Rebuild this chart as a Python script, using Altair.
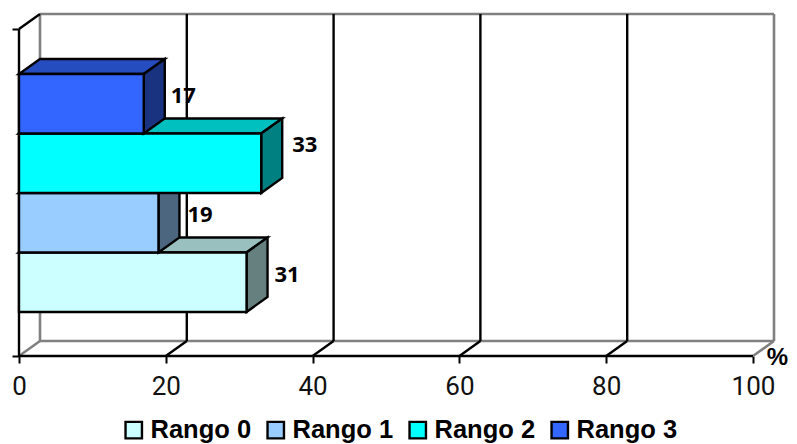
import altair as alt
import pandas as pd

series = ["Rango 0", "Rango 1", "Rango 2", "Rango 3"]
values = [31, 19, 33, 17]
label_y = [1.361, 2.37, 3.55, 4.37]
label_dx = [7, 8, 10, 6]
front = ["#CCFFFF", "#99CCFF", "#00FFFF", "#3366FF"]
top_c = ["#99BFBF", "#7399BF", "#00BFBF", "#264DBF"]
side_c = ["#668080", "#4D6680", "#008080", "#1A3380"]
base = 0.74
bar_h = 1.0
dx = 2.86
dy = 0.252
x_dom = [0, 102.86]
y_top = 5.496
y_dom = [0, 5.748]
ticks = [0, 20, 40, 60, 80, 100]
FONT_B = "Liberation Sans"
FONT_N = "Roboto"
SW = 2.4

xs = alt.Scale(domain=x_dom, nice=False, zero=False)
ys = alt.Scale(domain=y_dom, nice=False, zero=False)
xax = alt.Axis(
    values=ticks, title="%", domain=False, grid=False, tickColor="black",
    tickWidth=2, tickSize=7, labelFont=FONT_N, labelFontSize=26,
    labelColor="#111111", labelPadding=10, labelFlush=False,
    titleFont=FONT_B, titleFontSize=24, titleFontWeight="bold", titleColor="black",
    titleX=758, titleY=1, titleAlign="center", titleBaseline="middle", format="d")
yax = alt.Axis(
    values=[0, y_top], labels=False, title=None, domain=False, grid=False,
    tickColor="black", tickWidth=2, tickSize=7)


def X(f):
    return alt.X(f, scale=xs, axis=xax)


def Y(f):
    return alt.Y(f, scale=ys, axis=yax)


def rule(rows, color, w=SW):
    return alt.Chart(pd.DataFrame(rows, columns=["a", "a2", "b", "b2"])).mark_rule(
        color=color, strokeWidth=w, clip=False
    ).encode(x=X("a:Q"), x2="a2:Q", y=Y("b:Q"), y2="b2:Q")


layers = []
# walls, gridlines, floor
layers.append(rule([[dx, dx, dy, y_dom[1]], [100 + dx, 100 + dx, dy, y_dom[1]],
                    [dx, 100 + dx, dy, dy], [dx, 100 + dx, y_dom[1], y_dom[1]],
                    [0, dx, 0, dy], [100, 100 + dx, 0, dy]], "#808080", 2.6))
layers.append(rule([[t + dx, t + dx, dy, y_dom[1]] for t in ticks[1:-1]]
                   + [[t, t + dx, 0, dy] for t in ticks[1:-1]]
                   + [[0, 100, 0, 0], [0, 0, 0, y_top], [0, dx, y_top, y_dom[1]]], "black"))

# bars, painted bottom to top
for i, (s, v) in enumerate(zip(series, values)):
    lo = base + i * bar_h
    hi = lo + bar_h
    top = pd.DataFrame({"y": [hi, hi + dy], "x": [0, dx], "x2": [v, v + dx]})
    side = pd.DataFrame({"x": [v, v + dx], "y": [lo, lo + dy], "y2": [hi, hi + dy]})
    fr = pd.DataFrame({"s": [s], "x": [0], "x2": [v], "y": [lo], "y2": [hi]})
    layers.append(alt.Chart(top).mark_area(orient="horizontal", color=top_c[i], stroke="black", strokeWidth=SW, clip=False).encode(
        y=Y("y:Q"), x=X("x:Q"), x2="x2:Q"))
    layers.append(alt.Chart(side).mark_area(orient="vertical", color=side_c[i], stroke="black", strokeWidth=SW, clip=False).encode(
        x=X("x:Q"), y=Y("y:Q"), y2="y2:Q"))
    layers.append(alt.Chart(fr).mark_rect(stroke="black", strokeWidth=SW).encode(
        x=X("x:Q"), x2="x2:Q", y=Y("y:Q"), y2="y2:Q",
        color=alt.Color("s:N", scale=alt.Scale(domain=series, range=front), legend=alt.Legend(
            title=None, orient="none", legendX=102, legendY=403, direction="horizontal",
            columns=4, symbolType="square", symbolSize=270, symbolStrokeColor="black",
            symbolStrokeWidth=2.4, symbolOpacity=1, labelFont=FONT_B, labelFontSize=25.5,
            labelFontWeight="bold", labelColor="black", labelOffset=4, columnPadding=10,
            gridAlign="all", labelLimit=200)),
    ))

# data labels
for yy, v, off in zip(label_y, values, label_dx):
    lab = pd.DataFrame({"v": [v], "x": [v + dx], "y": [yy]})
    layers.append(alt.Chart(lab).mark_text(
        align="left", baseline="middle", dx=off, font="Open Sans", fontWeight="bold", fontSize=22, color="black"
    ).encode(x=X("x:Q"), y=Y("y:Q"), text="v:Q"))

chart = alt.layer(*layers).properties(
    width=755, height=342,
    padding={"left": 11, "top": 6, "right": 15, "bottom": 88},
    autosize=alt.AutoSizeParams(type="none"),
).configure_view(stroke=None)

chart.save("out.html", embed_options={"renderer": "svg", "actions": False})
